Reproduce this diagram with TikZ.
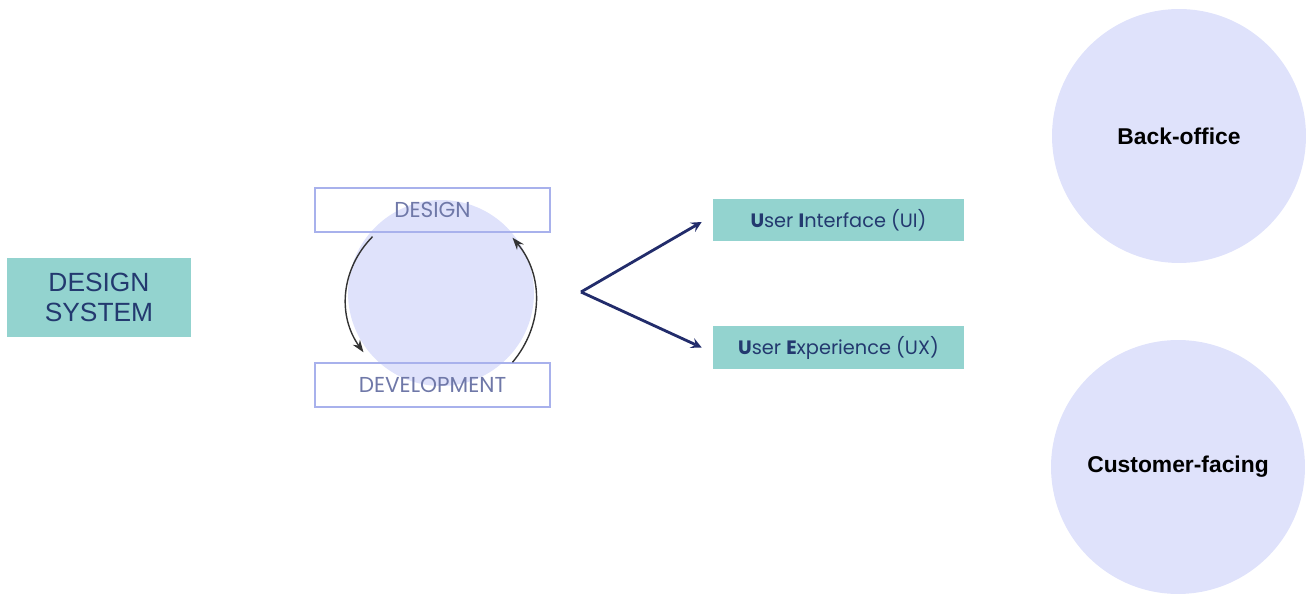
\documentclass[tikz,border=0pt]{standalone}
\usepackage{fontspec}
\usepackage{xcolor}
\usetikzlibrary{calc, arrows.meta}
\newfontfamily\popfont{Poppins}
\newfontfamily\arialfont{Liberation Sans}
\definecolor{tealbox}{HTML}{93D3CF}
\definecolor{lilac}{HTML}{DFE2FB}
\definecolor{framebl}{HTML}{A8B1EC}
\definecolor{navy}{HTML}{222C6B}
\definecolor{inknavy}{HTML}{23396F}
\definecolor{greyblue}{HTML}{6F78A8}

\tikzset{
  tealnode/.style={fill=tealbox, inner sep=0pt, align=center, text=inknavy},
  framenode/.style={draw=framebl, line width=0.8pt, inner sep=0pt, minimum width=4.7cm, minimum height=0.88cm,
    font=\popfont\fontsize{12.3}{14}\selectfont, text=greyblue},
  bigdisc/.style={circle, fill=lilac, minimum size=5.08cm, inner sep=0pt,
    font=\arialfont\bfseries\fontsize{13}{15}\selectfont}
}

\begin{document}
\begin{tikzpicture}[x=0.02cm, y=-0.02cm, >=stealth]
    \useasboundingbox (0,0) rectangle (1312,594);

    \node[tealnode, minimum width=3.68cm, minimum height=1.58cm,
          font=\arialfont\fontsize{15}{17}\selectfont] (dsys) at (99,297.5) {DESIGN\\SYSTEM};

    \node[circle, fill=lilac, minimum size=3.72cm, inner sep=0pt] (loopc) at (441,293) {};
    \node[framenode] (design) at (432.5,210) {DESIGN};
    \node[framenode] (devel) at (432.5,385) {DEVELOPMENT};

    \draw[-{Stealth[length=7pt,width=5pt]}, thick, black!80] ($(design.south)+(-60,4)$) to[bend right=40] ($(devel.north)+(-69,-10)$);
    \draw[-{Stealth[length=7pt,width=5pt]}, thick, black!80] ($(devel.north)+(80,0)$) to[bend right=40] ($(design.south)+(80,5)$);

    \node[tealnode, minimum width=5.02cm, minimum height=0.84cm,
          font=\popfont\fontsize{11}{12}\selectfont] (ui) at (838.5,220)
          {{\bfseries U}ser {\bfseries I}nterface (UI)};
    \node[tealnode, minimum width=5.02cm, minimum height=0.86cm,
          font=\popfont\fontsize{11}{12}\selectfont] (ux) at (838.5,347.5)
          {{\bfseries U}ser {\bfseries E}xperience (UX)};

    \coordinate (fork) at (581,292);
    \draw[->, ultra thick, navy] (fork) -- ($(ui.west)+(-11,2)$);
    \draw[->, ultra thick, navy] (fork) -- ($(ux.west)+(-11,0)$);

    \node[bigdisc] (back) at (1179,136) {Back-office};
    \node[bigdisc] (cust) at (1178,467) {Customer-facing};
\end{tikzpicture}
\end{document}
